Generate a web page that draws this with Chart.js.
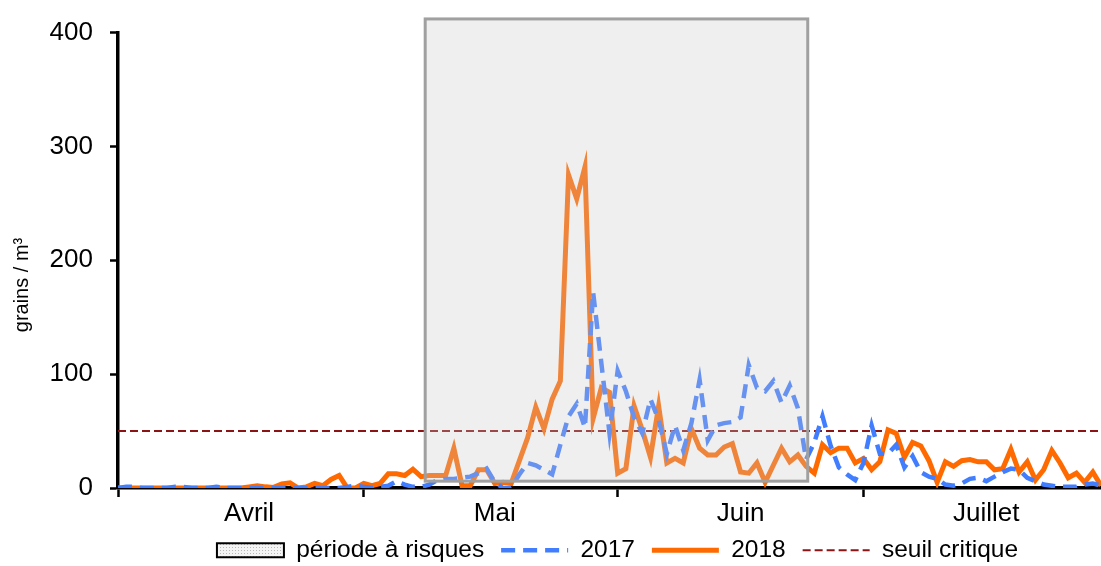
<!DOCTYPE html>
<html>
<head>
<meta charset="utf-8">
<script src="https://cdn.jsdelivr.net/npm/chart.js@4/dist/chart.umd.min.js"></script>
<style>
html, body { margin: 0; padding: 0; background: #fff; }
</style>
</head>
<body>
<canvas id="pollenChart" width="1101" height="566"></canvas>
<script>
// Daily pollen counts (grains / m³), day 0 = 1 April
const pollen2017 = [
  0, 1, 1, 0, 0, 0, 0, 1, 1, 0, 0, 0, 1, 0, 0, 0, 0, 0, 0, 0,
  0, 0, 0, 0, 0, 0, 0, 0, 1, 2, 1, 0, 1, 2, 6, 3, 1, 1, 3, 7,
  8, 8, 9, 10, 13, 17, 5, 0, 0, 12, 22, 20, 16, 12, 38, 63, 74, 53, 172, 110,
  48, 103, 85, 62, 48, 78, 60, 30, 55, 33, 57, 95, 42, 55, 57, 58, 62, 108, 88, 85,
  94, 75, 90, 70, 25, 40, 63, 37, 18, 12, 7, 22, 55, 30, 30, 38, 18, 28, 14, 10,
  8, 3, 2, 4, 8, 9, 6, 10, 14, 17, 16, 9, 6, 3, 2, 1, 1, 1, 3, 4,
  2
];
const pollen2018 = [
  0, 0, 0, 0, 0, 0, 0, 0, 0, 0, 0, 0, 0, 0, 0, 0, 1, 2, 1, 0.5,
  3.5, 4.5, 0, 1, 4, 2, 7.5, 11, 0, 0, 4, 2, 4, 12.5, 12.5, 11, 16.5, 10, 11, 11,
  11, 35, 2, 2, 16, 16, 4, 5, 4, 24, 44, 71, 52, 78, 94, 275, 254, 282, 61, 88,
  84, 13, 17, 72, 51, 27, 72, 22, 26, 22, 52, 35, 29, 29, 36, 39, 14, 13, 22, 5,
  20, 35, 23, 29, 19, 13, 38, 31, 35, 35, 22, 26, 16, 23, 51, 48, 27, 40, 37, 24,
  5, 23, 19, 24, 25, 23, 23, 16, 17, 34, 14, 23, 7, 16, 33, 22, 9, 13, 5, 14,
  2
];
const seuilCritique = 50;

// months: first day of each month and where its name sits
const monthNames = ['Avril', 'Mai', 'Juin', 'Juillet'];
const monthStarts = [0, 30, 61, 91];
const monthLabelDays = [16, 46, 76, 106];
const lastDay = 120;

// risk period (shaded box)
const periodStart = 37.5;
const periodEnd = 84.2;
const periodLow = 6;
const periodHigh = 412;

const yTicks = [0, 100, 200, 300, 400];

Chart.defaults.font.family = '"Liberation Sans", Arial, sans-serif';
Chart.defaults.color = '#000';

const days = pollen2018.map((v, i) => i);

// dotted fill for the legend box of the risk period
function makePattern() {
  const c = document.createElement('canvas');
  c.width = 3; c.height = 3;
  const g = c.getContext('2d');
  g.fillStyle = '#f4f4f4';
  g.fillRect(0, 0, 3, 3);
  g.fillStyle = '#b8b8b8';
  g.fillRect(1, 1, 1, 1);
  return g.createPattern(c, 'repeat');
}

const periodBox = {
  id: 'periodBox',
  afterDatasetsDraw(chart) {
    const { ctx, scales: { x, y } } = chart;
    const left = x.getPixelForValue(periodStart);
    const right = x.getPixelForValue(periodEnd);
    const top = y.getPixelForValue(periodHigh);
    const bottom = y.getPixelForValue(periodLow);
    ctx.save();
    ctx.fillStyle = 'rgba(200, 200, 200, 0.29)';
    ctx.fillRect(left, top, right - left, bottom - top);
    ctx.strokeStyle = '#a0a0a0';
    ctx.lineWidth = 3;
    ctx.strokeRect(left, top, right - left, bottom - top);
    ctx.restore();
  }
};

const yTitle = {
  id: 'yTitle',
  afterDraw(chart) {
    const ctx = chart.ctx;
    ctx.save();
    ctx.translate(22, 285);
    ctx.rotate(-Math.PI / 2);
    ctx.font = '20px "Liberation Sans", Arial, sans-serif';
    ctx.fillStyle = '#000';
    ctx.textAlign = 'center';
    ctx.textBaseline = 'middle';
    ctx.fillText('grains / m³', 0, 0);
    ctx.restore();
  }
};

// move the legend right and up a little, like in the original
const legendShift = {
  id: 'legendShift',
  afterLayout(chart) {
    const lg = chart.legend;
    lg.left += 67;
    lg.right += 67;
    lg.top -= 7;
    lg.bottom = chart.height;
  }
};

const ctx = document.getElementById('pollenChart').getContext('2d');
const pattern = makePattern();

new Chart(ctx, {
  type: 'line',
  data: {
    datasets: [
      {
        label: '2017',
        data: days.map(d => ({ x: d, y: pollen2017[d] })),
        borderColor: 'rgb(64, 125, 255)',
        borderWidth: 4.5,
        borderDash: [14, 8],
        pointRadius: 0,
        tension: 0
      },
      {
        label: '2018',
        data: days.map(d => ({ x: d, y: pollen2018[d] })),
        borderColor: 'rgb(255, 106, 0)',
        borderWidth: 5,
        pointRadius: 0,
        tension: 0
      },
      {
        label: 'seuil critique',
        data: [{ x: 0, y: seuilCritique }, { x: lastDay, y: seuilCritique }],
        borderColor: '#8c1414',
        borderWidth: 2,
        borderDash: [8, 4],
        pointRadius: 0
      }
    ]
  },
  options: {
    responsive: false,
    animation: false,
    devicePixelRatio: 1,
    layout: { padding: { top: 30, right: 0, bottom: 0, left: 0 } },
    scales: {
      x: {
        type: 'linear',
        min: 0,
        max: lastDay,
        afterBuildTicks: scale => {
          scale.ticks = monthStarts.concat(monthLabelDays)
            .sort((a, b) => a - b)
            .map(v => ({ value: v }));
        },
        afterFit: scale => { scale.height = 40; },
        ticks: {
          autoSkip: false,
          maxRotation: 0,
          padding: 1,
          font: { size: 26 },
          callback: value => {
            const i = monthLabelDays.indexOf(value);
            return i >= 0 ? monthNames[i] : '';
          }
        },
        grid: {
          drawOnChartArea: false,
          drawTicks: true,
          tickLength: 9,
          tickWidth: 2.5,
          tickColor: c => (c.tick && monthStarts.includes(c.tick.value)) ? '#000' : 'rgba(0,0,0,0)'
        },
        border: { color: '#000', width: 3.5 }
      },
      y: {
        min: 0,
        max: 400,
        afterBuildTicks: scale => {
          scale.ticks = yTicks.map(v => ({ value: v }));
        },
        afterFit: scale => { scale.width = 118; },
        ticks: { padding: 17, font: { size: 26 } },
        grid: {
          drawOnChartArea: false,
          drawTicks: true,
          tickLength: 8,
          tickWidth: 2.5,
          tickColor: '#000'
        },
        border: { color: '#000', width: 3.5 }
      }
    },
    plugins: {
      tooltip: { enabled: false },
      legend: {
        position: 'bottom',
        maxHeight: 38,
        labels: {
          font: { size: 24.5 },
          color: '#000',
          padding: 17,
          usePointStyle: true,
          pointStyleWidth: 67,
          boxHeight: 14,
          generateLabels: chart => {
            const items = [{
              text: 'période à risques',
              fillStyle: pattern,
              strokeStyle: '#000',
              lineWidth: 2,
              pointStyle: 'rect',
              hidden: false
            }];
            chart.data.datasets.forEach((ds, i) => {
              items.push({
                text: ds.label,
                fillStyle: 'rgba(0,0,0,0)',
                strokeStyle: ds.borderColor,
                lineWidth: ds.borderWidth,
                lineDash: ds.borderDash || [],
                pointStyle: 'line',
                hidden: false,
                datasetIndex: i
              });
            });
            return items;
          }
        }
      }
    }
  },
  plugins: [periodBox, yTitle, legendShift]
});
</script>
</body>
</html>
